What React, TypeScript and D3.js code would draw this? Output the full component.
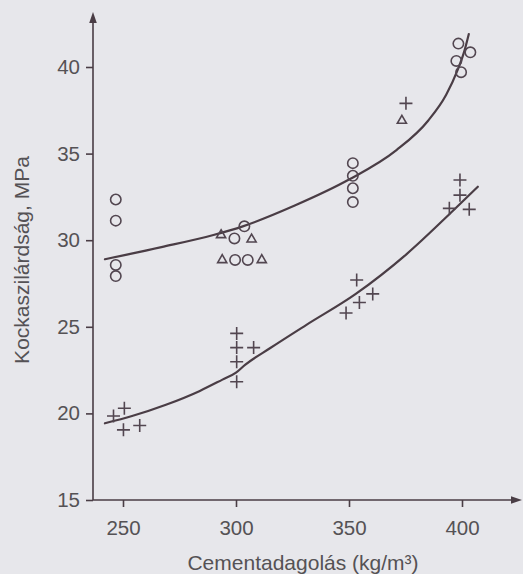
import React, { useEffect, useRef } from 'react';
import * as d3 from 'd3';

// cement content (kg/m3) vs cube strength (MPa)
const X_TICKS = [250, 300, 350, 400];
const Y_TICKS = [15, 20, 25, 30, 35, 40];

const CIRCLE_X = [246.8, 246.8, 246.8, 246.8, 299.3, 303.7, 299.6, 305.2, 351.7, 351.7, 351.7, 351.7, 398.4, 397.5, 399.6, 403.7];
const CIRCLE_Y = [32.35, 31.13, 28.57, 27.93, 30.1, 30.8, 28.86, 28.86, 34.45, 33.72, 33.0, 32.2, 41.35, 40.35, 39.7, 40.85];

const TRIANGLE_X = [293.4, 306.9, 293.9, 311.4, 373.4];
const TRIANGLE_Y = [30.3, 30.05, 28.86, 28.86, 36.9];

const PLUS_X = [245.8, 250.6, 250.2, 257.4, 300.3, 300.3, 300.3, 300.3, 307.8, 353.4, 348.7, 354.6, 360.5, 375.2, 399.1, 399.1, 394.4, 403.2];
const PLUS_Y = [19.85, 20.3, 19.05, 19.3, 24.62, 23.8, 22.98, 21.83, 23.8, 27.7, 25.8, 26.4, 26.9, 37.9, 33.48, 32.6, 31.84, 31.78];

// fitted curves
const UPPER_X = [242, 267, 290, 303, 326, 350, 371, 385, 393, 398, 401, 403];
const UPPER_Y = [28.9, 29.6, 30.3, 30.8, 32.0, 33.5, 35.2, 36.9, 38.4, 39.8, 40.9, 41.9];

const LOWER_X = [242, 254, 269, 284, 294, 300, 304, 315, 331, 353, 375.5, 396, 407];
const LOWER_Y = [19.43, 19.85, 20.5, 21.3, 21.95, 22.35, 22.8, 23.76, 25.1, 26.9, 29.2, 31.7, 33.09];

const W = 523;
const H = 574;
const INK = '#4a3d45';
const TEXT = '#555255';
const FONT = '"Liberation Sans", Arial, sans-serif';

const App = () => {
  const svgRef = useRef<SVGSVGElement>(null);

  useEffect(() => {
    const svg = d3.select(svgRef.current);
    svg.selectAll('*').remove();

    const x = d3.scaleLinear().domain([250, 400]).range([123, 462]);
    const y = d3.scaleLinear().domain([15, 40]).range([500, 67]);
    const x0 = 93;
    const y0 = 500;

    svg.append('rect').attr('width', W).attr('height', H).attr('fill', '#e7e7eb');

    // axes
    const yAxis = svg.append('g')
      .attr('transform', `translate(${x0},0)`)
      .call(d3.axisLeft(y).tickValues(Y_TICKS).tickSize(7).tickPadding(6).tickFormat(d3.format('d')));
    const xAxis = svg.append('g')
      .attr('transform', `translate(0,${y0})`)
      .call(d3.axisBottom(x).tickValues(X_TICKS).tickSize(7).tickPadding(13).tickFormat(d3.format('d')));

    [yAxis, xAxis].forEach(a => {
      a.select('.domain').remove();
      a.selectAll('line').attr('stroke', INK).attr('stroke-width', 1.6);
      a.selectAll('text')
        .attr('fill', TEXT)
        .style('font-family', FONT)
        .style('font-size', '20.5px');
    });

    svg.append('line').attr('x1', x0).attr('x2', x0).attr('y1', y0).attr('y2', 20)
      .attr('stroke', INK).attr('stroke-width', 1.6);
    svg.append('line').attr('x1', x0).attr('x2', 514).attr('y1', y0).attr('y2', y0)
      .attr('stroke', INK).attr('stroke-width', 1.6);
    svg.append('path').attr('d', `M${x0},12 L${x0 - 3.8},23 L${x0 + 3.8},23 Z`).attr('fill', INK);
    svg.append('path').attr('d', `M522,${y0} L511,${y0 - 3.8} L511,${y0 + 3.8} Z`).attr('fill', INK);

    // titles
    svg.append('text')
      .attr('transform', 'translate(29,260) rotate(-90)')
      .attr('text-anchor', 'middle')
      .attr('fill', TEXT)
      .style('font-family', FONT)
      .style('font-size', '21px')
      .text('Kockaszilárdság, MPa');

    svg.append('text')
      .attr('x', 303)
      .attr('y', 570)
      .attr('text-anchor', 'middle')
      .attr('fill', TEXT)
      .style('font-family', FONT)
      .style('font-size', '21px')
      .text('Cementadagolás (kg/m³)');

    // curves
    const line = d3.line<[number, number]>()
      .x(d => x(d[0]))
      .y(d => y(d[1]))
      .curve(d3.curveMonotoneX);

    const upper = UPPER_X.map((v, i) => [v, UPPER_Y[i]] as [number, number]);
    const lower = LOWER_X.map((v, i) => [v, LOWER_Y[i]] as [number, number]);
    [upper, lower].forEach(pts => {
      svg.append('path')
        .attr('d', line(pts))
        .attr('fill', 'none')
        .attr('stroke', INK)
        .attr('stroke-width', 2.2)
        .attr('stroke-linecap', 'round');
    });

    // markers
    const marks = svg.append('g').attr('fill', 'none').attr('stroke', '#524650').attr('stroke-width', 1.6);

    marks.selectAll('circle.c')
      .data(CIRCLE_X.map((v, i) => [v, CIRCLE_Y[i]]))
      .enter().append('circle')
      .attr('class', 'c')
      .attr('cx', d => x(d[0]))
      .attr('cy', d => y(d[1]))
      .attr('r', 5.2);

    const tri = d3.symbol().type(d3.symbolTriangle).size(36);
    marks.selectAll('path.t')
      .data(TRIANGLE_X.map((v, i) => [v, TRIANGLE_Y[i]]))
      .enter().append('path')
      .attr('class', 't')
      .attr('transform', d => `translate(${x(d[0])},${y(d[1])})`)
      .attr('d', tri());

    const s = 6.5;
    marks.selectAll('path.p')
      .data(PLUS_X.map((v, i) => [v, PLUS_Y[i]]))
      .enter().append('path')
      .attr('class', 'p')
      .attr('d', d => {
        const cx = x(d[0]);
        const cy = y(d[1]);
        return `M${cx - s},${cy}H${cx + s}M${cx},${cy - s}V${cy + s}`;
      });
  }, []);

  return (
    <svg
      ref={svgRef}
      width={W}
      height={H}
      style={{ position: 'absolute', left: 0, top: 0, display: 'block' }}
    />
  );
};

export default App;
